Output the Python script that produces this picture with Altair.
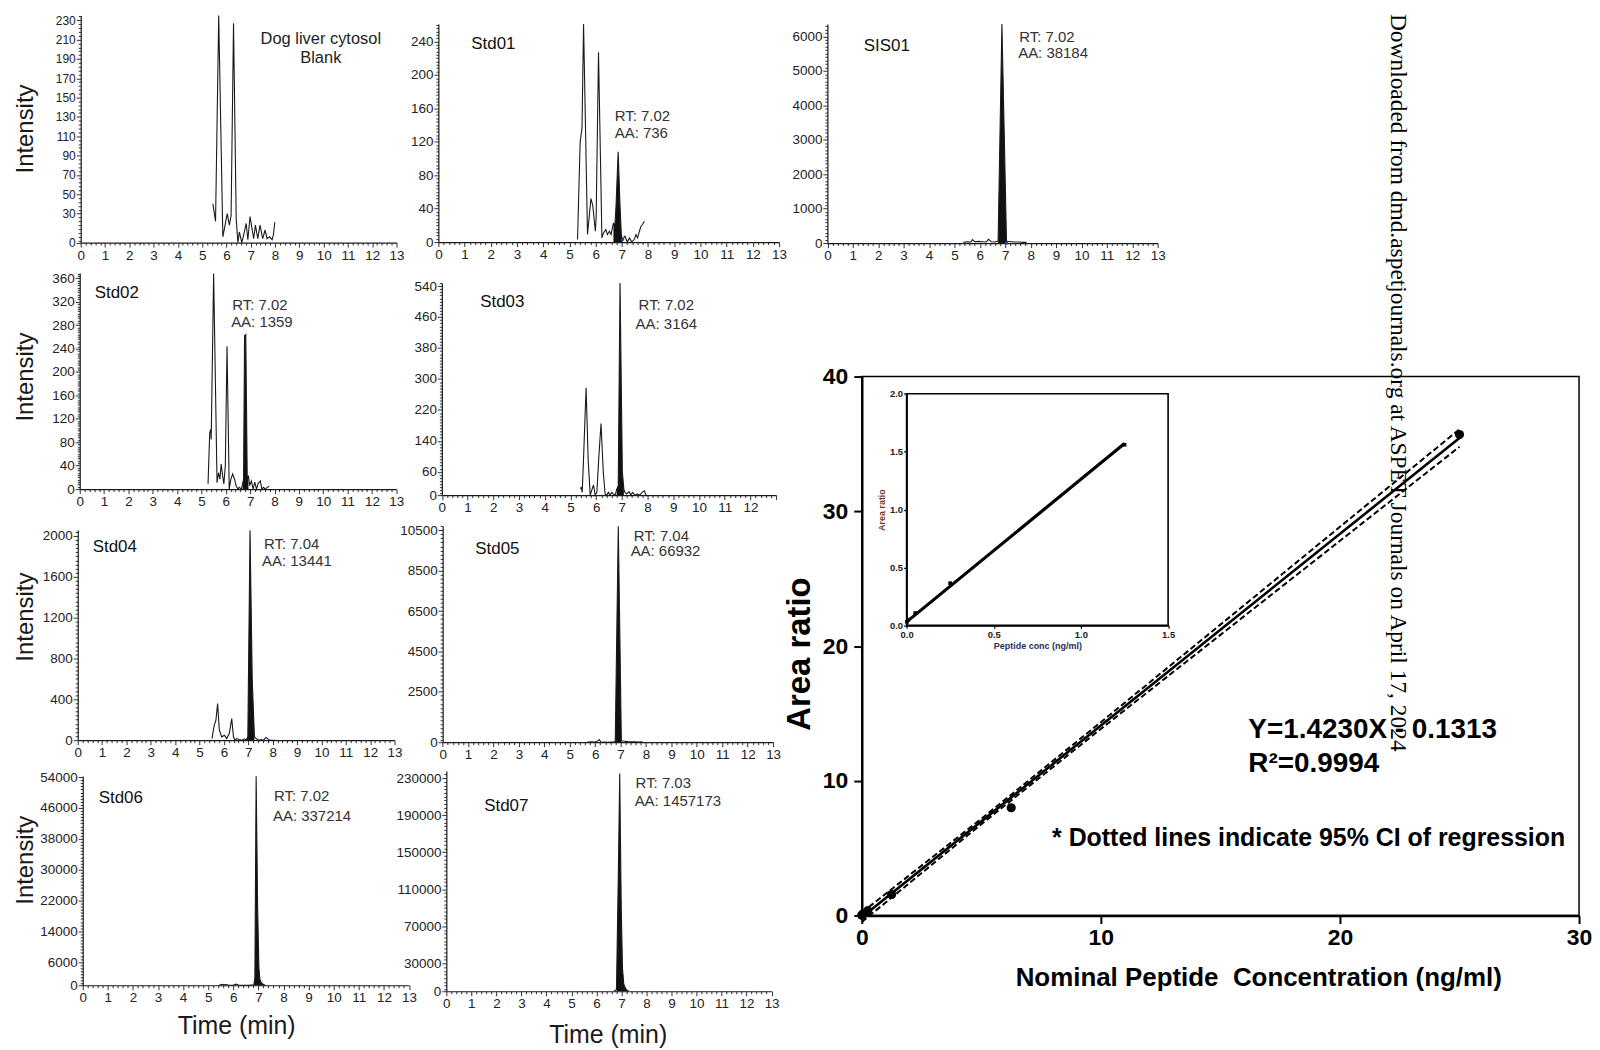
import json
import altair as alt
import pandas as pd

FONT = "Liberation Sans"
SERIF = "Liberation Serif"
INK = "#1a1a1a"

# ---------------- chromatogram traces: time (min), intensity ----------------
blank_t = [5.44, 5.55, 5.68, 5.85, 5.92, 6.03, 6.12, 6.19, 6.29, 6.40, 6.47, 6.53, 6.63, 6.71, 6.81,
           6.88, 6.97, 7.04, 7.12, 7.19, 7.29, 7.38, 7.49, 7.59, 7.67, 7.77, 7.88, 7.93, 7.99]
blank_i = [40, 22, 235, 6, 15, 30, 18, 28, 227, 25, 0, 11, 0, 8, 20,
           3, 27, 16, 4, 18, 4, 18, 4, 13, 4, 6, 3, 8, 21]

std01_t = [5.31, 5.41, 5.48, 5.54, 5.69, 5.82, 5.89, 5.99, 6.02, 6.11, 6.24, 6.30, 6.39, 6.45, 6.53,
           6.59, 6.68, 6.73, 6.78, 6.86, 6.93, 6.98, 7.03, 7.12, 7.21, 7.29, 7.38, 7.47, 7.54, 7.60,
           7.67, 7.73, 7.79, 7.86]
std01_i = [3, 120, 136, 261, 9, 52, 44, 13, 29, 227, 5, 11, 15, 9, 13,
           9, 23, 17, 44, 108, 44, 9, 3, 7, 0, 5, 0, 3, 9, 5,
           13, 19, 21, 25]

sis01_t = [5.35, 5.50, 5.65, 5.71, 5.80, 5.95, 6.10, 6.25, 6.34, 6.45, 6.60, 6.72, 6.87, 7.05, 7.10,
           7.25, 7.40, 7.55, 7.70, 7.84]
sis01_i = [20, 40, 30, 100, 40, 50, 40, 30, 110, 40, 30, 60, 6360, 60, 50,
           40, 30, 30, 20, 20]

std02_t = [5.27, 5.34, 5.38, 5.40, 5.50, 5.64, 5.70, 5.76, 5.81, 5.87, 5.92, 5.98, 6.05, 6.14, 6.21,
           6.28, 6.36, 6.42, 6.50, 6.55, 6.64, 6.69, 6.73, 6.77, 6.82, 6.88, 6.93, 6.98, 7.05, 7.12,
           7.19, 7.26, 7.33, 7.42, 7.48, 7.55, 7.62, 7.70, 7.78]
std02_i = [9, 96, 102, 85, 368, 11, 28, 17, 43, 23, 9, 40, 244, 0, 17,
           26, 17, 6, 0, 3, 0, 9, 17, 262, 264, 17, 23, 6, 14, 0,
           12, 0, 10, 14, 0, 3, 0, 3, 5]

std03_t = [5.38, 5.42, 5.46, 5.51, 5.61, 5.69, 5.77, 5.84, 5.90, 5.96, 6.03, 6.10, 6.19, 6.28, 6.35,
           6.41, 6.48, 6.54, 6.61, 6.67, 6.74, 6.80, 6.86, 6.93, 7.02, 7.08, 7.12, 7.19, 7.28, 7.35,
           7.42, 7.51, 7.60, 7.70, 7.79, 7.88, 7.94]
std03_i = [17, 20, 7, 93, 277, 93, 0, 15, 26, 0, 7, 93, 185, 58, 3,
           0, 7, 0, 7, 3, 0, 15, 24, 548, 60, 15, 7, 3, 9, 0,
           7, 0, 3, 0, 7, 11, 0]

std04_t = [5.51, 5.60, 5.67, 5.74, 5.81, 5.91, 6.02, 6.11, 6.22, 6.32, 6.39, 6.46, 6.52, 6.63, 6.73,
           6.84, 6.91, 6.98, 7.07, 7.16, 7.25, 7.32, 7.43, 7.53, 7.62, 7.73, 7.80, 7.90, 8.01, 8.09]
std04_i = [16, 146, 195, 358, 98, 33, 49, 16, 65, 211, 33, 0, 16, 7, 0,
           13, 0, 33, 2055, 600, 33, 16, 0, 7, 0, 26, 13, 0, 0, 0]

std05_t = [5.68, 5.83, 5.96, 6.07, 6.16, 6.23, 6.36, 6.49, 6.62, 6.72, 6.79, 6.91, 7.03, 7.10, 7.16,
           7.29, 7.42, 7.55, 7.68, 7.86]
std05_i = [0, 20, 10, 30, 130, 0, 10, 0, 10, 20, 30, 10700, 60, 60, 50,
           30, 20, 20, 10, 20]

std06_t = [5.43, 5.56, 5.63, 5.70, 5.83, 5.98, 6.12, 6.23, 6.40, 6.60, 6.82, 6.86, 6.91, 6.97, 7.02,
           7.06, 7.12, 7.20, 7.28]
std06_i = [0, 250, 150, 200, 0, 0, 300, 0, 0, 0, 100, 2000, 54200, 20000, 4500,
           1500, 600, 200, 0]

std07_t = [6.70, 6.80, 6.87, 6.93, 6.99, 7.04, 7.09, 7.16, 7.22, 7.29]
std07_i = [0, 2000, 120000, 235000, 90000, 25000, 8000, 3000, 1000, 0]

# integration-marker dots (blue) at the end of the integrated peak
dot_std01 = ([7.03], [3])
dot_sis01 = ([7.05], [0])

# y-axis major tick labels of each chromatogram
yt_blank = [0, 30, 50, 70, 90, 110, 130, 150, 170, 190, 210, 230]
yt_std01 = [0, 40, 80, 120, 160, 200, 240]
yt_sis01 = [0, 1000, 2000, 3000, 4000, 5000, 6000]
yt_std02 = [0, 40, 80, 120, 160, 200, 240, 280, 320, 360]
yt_std03 = [0, 60, 140, 220, 300, 380, 460, 540]
yt_std04 = [0, 400, 800, 1200, 1600, 2000]
yt_std05 = [0, 2500, 4500, 6500, 8500, 10500]
yt_std06 = [0, 6000, 14000, 22000, 30000, 38000, 46000, 54000]
yt_std07 = [0, 30000, 70000, 110000, 150000, 190000, 230000]

# annotation strings
lab_blank = ["Dog liver cytosol", "Blank"]
lab_std01 = ["Std01", "RT: 7.02", "AA: 736"]
lab_sis01 = ["SIS01", "RT: 7.02", "AA: 38184"]
lab_std02 = ["Std02", "RT: 7.02", "AA: 1359"]
lab_std03 = ["Std03", "RT: 7.02", "AA: 3164"]
lab_std04 = ["Std04", "RT: 7.04", "AA: 13441"]
lab_std05 = ["Std05", "RT: 7.04", "AA: 66932"]
lab_std06 = ["Std06", "RT: 7.02", "AA: 337214"]
lab_std07 = ["Std07", "RT: 7.03", "AA: 1457173"]

# ---------------- calibration curve ----------------
conc = [0.002, 0.01, 0.05, 0.25, 1.25, 6.25, 25]
ratio = [0.03, 0.049, 0.106, 0.364, 1.56, 8.0, 35.7]
fit_x = [0, 25]
fit_y = [-0.13, 35.44]
ci_x = [0, 5, 10, 15, 20, 25]
ci_hi = [0.22, 7.18, 14.35, 21.59, 28.85, 36.09]
ci_lo = [-0.48, 6.78, 13.85, 20.83, 27.81, 34.79]
inset_fit_x = [0, 1.25]
inset_fit_y = [0.03, 1.57]
eq_text = "Y=1.4230X - 0.1313"
r2_text = "R\u00b2=0.9994"
ci_note = "* Dotted lines indicate 95% CI of regression"
watermark = "Downloaded from dmd.aspetjournals.org at ASPET Journals on April 17, 2024"

# ---------------- canvas (whole figure = one view; page offset 8 px) ----------------
W, H = 1584, 1034
OFF = 8

XMAJ = list(range(14))
XVALS = [round(k * 0.2, 6) for k in range(66)]


def tick_values(majors, step, top):
    vals = {float(m) for m in majors}
    anchor = majors[1]
    k = -int(anchor / step) - 1
    while True:
        v = round(anchor + k * step, 6)
        if v > top + 1e-9:
            break
        if v >= 0:
            vals.add(v)
        k += 1
    return sorted(vals)


def is_major(majors):
    return "indexof(%s, datum.value) >= 0" % json.dumps(majors)


def note(s, x, y, size, color=INK, align="left", weight="normal", font=FONT, angle=None):
    """Text annotation placed at page coordinates (x, y)."""
    kw = dict(align=align, baseline="middle", fontSize=size, color=color, font=font, fontWeight=weight)
    if angle is not None:
        kw["angle"] = angle
    return alt.Chart(pd.DataFrame({"s": [s]})).mark_text(**kw).encode(
        x=alt.value(x - OFF), y=alt.value(y - OFF), text="s:N")


def chrom(t, inten, box, ymax, ymaj, ystep, notes, fill=None, ylab=13.5,
          ytitle=None, xtitle=None, xlab=XMAJ, dots=None):
    L, R, T, B = box
    df = pd.DataFrame({"t": t, "I": inten})
    xt = is_major(XMAJ)
    xl = is_major(xlab)
    xkw = dict(orient="bottom", offset=-(H - (B - OFF)),
               values=XVALS, labelExpr="(%s) ? format(datum.value, 'd') : ''" % xl,
               tickSize={"condition": {"test": xt, "value": 4.5}, "value": 2.5},
               labelFontSize=13.5, labelPadding=1, labelOverlap=False, labelFlush=False,
               tickWidth=0.9, domainWidth=1.2, domainColor=INK, tickColor=INK,
               labelColor="#222222", labelFont=FONT, grid=False)
    if xtitle is not None:
        xkw.update(title="Time (min)", titleFontSize=25, titleFontWeight="normal", titleFont=FONT,
                   titleColor=INK, titleX=xtitle[0] - OFF, titleY=xtitle[1] - B, titleBaseline="middle")
    else:
        xkw["title"] = None
    yvals = tick_values(ymaj, ystep, ymax)
    yt = is_major(ymaj)
    ykw = dict(orient="left", offset=-(L - OFF),
               values=yvals, labelExpr="(%s) ? format(datum.value, 'd') : ''" % yt,
               tickSize={"condition": {"test": yt, "value": 4.5}, "value": 2.5},
               labelFontSize=ylab, labelPadding=1, labelOverlap=False, labelFlush=False,
               tickWidth=0.9, domainWidth=1.2, domainColor=INK, tickColor=INK,
               labelColor="#222222", labelFont=FONT, grid=False)
    if ytitle is not None:
        ykw.update(title="Intensity", titleFontSize=24, titleFontWeight="normal", titleFont=FONT,
                   titleColor=INK, titleX=ytitle[0] - L, titleY=ytitle[1] - OFF, titleBaseline="middle")
    else:
        ykw["title"] = None
    X = alt.X("t:Q", scale=alt.Scale(domain=[0, 13], range=[L - OFF, R - OFF], nice=False, zero=False),
              axis=alt.Axis(**xkw))
    Y = alt.Y("I:Q", scale=alt.Scale(domain=[0, ymax], range=[B - OFF, T - OFF], nice=False, zero=False),
              axis=alt.Axis(**ykw))
    layers = []
    if fill:
        layers.append(alt.Chart(df).transform_filter(
            (alt.datum.t >= fill[0] - 1e-6) & (alt.datum.t <= fill[1] + 1e-6)
        ).mark_area(color="#111111", opacity=1, interpolate="linear").encode(x=X, y=Y))
    layers.append(alt.Chart(df).mark_line(color=INK, strokeWidth=1.1).encode(x=X, y=Y))
    if dots:
        layers.append(alt.Chart(pd.DataFrame({"t": dots[0], "I": dots[1]})).mark_point(
            filled=True, size=10, color="#1f3fd0", opacity=1).encode(x=X, y=Y))
    for n in notes:
        layers.append(note(*n))
    return alt.layer(*layers)


def std_notes(labels, p0, p1, p2):
    return [(labels[0], p0[0], p0[1], 17, "#111111"),
            (labels[1], p1[0], p1[1], 15, "#333333"),
            (labels[2], p2[0], p2[1], 15, "#333333")]


# ---------------- chromatogram panels (boxes in page px: left, right, top, bottom) ----------------
p_blank = chrom(blank_t, blank_i, (81, 398, 9.5, 237.5), 235, yt_blank, 4,
                [(lab_blank[0], 322, 33, 16.5, "#222222", "center"),
                 (lab_blank[1], 322, 52, 16.5, "#222222", "center")],
                ylab=12, ytitle=(26, 123))
p_std01 = chrom(std01_t, std01_i, (440, 782, 18, 237), 261, yt_std01, 4,
                std_notes(lab_std01, (473, 38), (617, 110), (617, 128)),
                fill=(6.68, 7.03), dots=dot_std01)
p_sis01 = chrom(sis01_t, sis01_i, (830.5, 1162, 18, 238), 6364, yt_sis01, 100,
                std_notes(lab_sis01, (867, 40), (1023, 31), (1022, 47)),
                fill=(6.72, 7.05), dots=dot_sis01)
p_std02 = chrom(std02_t, std02_i, (80, 397.7, 268, 485), 369, yt_std02, 4,
                std_notes(lab_std02, (95, 288), (233, 300), (232, 317)),
                fill=(6.69, 6.93), ytitle=(26, 372))
p_std03 = chrom(std03_t, std03_i, (443.5, 779, 278, 491), 548, yt_std03, 8,
                std_notes(lab_std03, (482, 297), (641, 300), (638, 319)),
                fill=(6.80, 7.08), xlab=XMAJ[:-1])
p_std04 = chrom(std04_t, std04_i, (78, 396, 526, 737), 2058, yt_std04, 40,
                std_notes(lab_std04, (93, 543), (265, 540), (263, 557)),
                fill=(6.91, 7.25), ytitle=(26, 613))
p_std05 = chrom(std05_t, std05_i, (444.3, 776, 522, 739), 10714, yt_std05, 200,
                std_notes(lab_std05, (477, 545), (636, 532), (633, 547)),
                fill=(6.79, 7.03))
p_std06 = chrom(std06_t, std06_i, (83, 410.5, 773, 983), 54264, yt_std06, 800,
                std_notes(lab_std06, (99, 795), (275, 793), (274, 813)),
                fill=(6.82, 7.28), ytitle=(26, 857), xtitle=(237, 1023))
p_std07 = chrom(std07_t, std07_i, (448, 774.5, 768, 989), 237634, yt_std07, 4000,
                std_notes(lab_std07, (486, 803), (638, 780), (637, 798)),
                fill=(6.78, 7.29), xtitle=(610, 1032))

# ---------------- calibration plot (page box 865..1585 x 372..913) ----------------
RL, RR, RT, RB = 865, 1585, 372, 913
rx_axis = alt.Axis(orient="bottom", offset=-(H - (RB - OFF)), values=[0, 10, 20, 30],
                   title="Nominal Peptide\u00a0 Concentration (ng/ml)",
                   titleFontSize=26, titleFontWeight="bold", titleFont=FONT, titleColor="#000000",
                   titleX=1263 - OFF, titleY=975 - RB, titleBaseline="middle",
                   labelFontSize=23, labelFontWeight="bold", labelFont=FONT, labelColor="#000000",
                   labelPadding=3, labelFlush=False, tickSize=8, tickWidth=2, domainWidth=2.5,
                   domainColor="#000000", tickColor="#000000", grid=False)
ry_axis = alt.Axis(orient="left", offset=-(RL - OFF), values=[0, 10, 20, 30, 40], title="Area ratio",
                   titleFontSize=33, titleFontWeight="bold", titleFont=FONT, titleColor="#000000",
                   titleX=803 - RL, titleY=650 - OFF, titleBaseline="middle",
                   labelFontSize=23, labelFontWeight="bold", labelFont=FONT, labelColor="#000000",
                   labelPadding=6, labelFlush=False, tickSize=8, tickWidth=2, domainWidth=2.5,
                   domainColor="#000000", tickColor="#000000", grid=False)
RX = alt.X("conc:Q", scale=alt.Scale(domain=[0, 30], range=[RL - OFF, RR - OFF], nice=False, zero=False),
           axis=rx_axis)
RY = alt.Y("ratio:Q", scale=alt.Scale(domain=[0, 40], range=[RB - OFF, RT - OFF], nice=False, zero=False),
           axis=ry_axis)

reg_df = pd.DataFrame({"conc": conc, "ratio": ratio})
fit_df = pd.DataFrame({"conc": fit_x, "ratio": fit_y})
hi_df = pd.DataFrame({"conc": ci_x, "ratio": ci_hi})
lo_df = pd.DataFrame({"conc": ci_x, "ratio": ci_lo})
main_frame = pd.DataFrame({"conc": [0], "conc2": [30], "ratio": [0], "ratio2": [40]})

main = alt.layer(
    alt.Chart(main_frame).mark_rect(fill="#ffffff", fillOpacity=0, stroke="#000000", strokeWidth=1.5).encode(
        x=RX, x2="conc2:Q", y=RY, y2="ratio2:Q"),
    alt.Chart(hi_df).mark_line(color="#000000", strokeWidth=2, strokeDash=[6, 3]).encode(x=RX, y=RY),
    alt.Chart(lo_df).mark_line(color="#000000", strokeWidth=2, strokeDash=[6, 3]).encode(x=RX, y=RY),
    alt.Chart(fit_df).mark_line(color="#000000", strokeWidth=2.6).encode(x=RX, y=RY),
    alt.Chart(reg_df).mark_circle(size=85, color="#000000", opacity=1).encode(x=RX, y=RY),
    note(eq_text, 1253, 727, 28, "#000000", "left", "bold"),
    note(r2_text, 1253, 761, 28, "#000000", "left", "bold"),
    note(ci_note, 1056, 835, 25, "#000000", "left", "bold"),
    note(watermark, 1403, OFF, 23.5, "#000000", "left", "normal", SERIF, 90),
)

# inset (page box 910..1172.5 x 389.3..621.7)
IL, IR, IT, IB = 910, 1172.5, 389.3, 621.7
ix_axis = alt.Axis(orient="bottom", offset=-(H - (IB - OFF)), values=[0, 0.5, 1.0, 1.5], format=".1f",
                   labelFontSize=9.5, labelFontWeight="bold", labelFont=FONT, labelColor="#222222",
                   labelPadding=1, labelFlush=False, tickSize=3, tickWidth=1.2, domainWidth=1.6,
                   domainColor="#000000", tickColor="#000000", grid=False,
                   title="Peptide conc (ng/ml)", titleFontSize=9, titleFontWeight="bold", titleFont=FONT,
                   titleColor="#22305a", titlePadding=3)
iy_axis = alt.Axis(orient="left", offset=-(IL - OFF), values=[0, 0.5, 1.0, 1.5, 2.0], format=".1f",
                   labelFontSize=9.5, labelFontWeight="bold", labelFont=FONT, labelColor="#222222",
                   labelPadding=1, labelFlush=False, tickSize=3, tickWidth=1.2, domainWidth=1.6,
                   domainColor="#000000", tickColor="#000000", grid=False,
                   title="Area ratio", titleFontSize=9, titleFontWeight="bold", titleFont=FONT,
                   titleColor="#6e3b2c", titlePadding=3)
IX = alt.X("conc:Q", scale=alt.Scale(domain=[0, 1.5], range=[IL - OFF, IR - OFF], nice=False, zero=False),
           axis=ix_axis)
IY = alt.Y("ratio:Q", scale=alt.Scale(domain=[0, 2.0], range=[IB - OFF, IT - OFF], nice=False, zero=False),
           axis=iy_axis)

inset_frame = pd.DataFrame({"conc": [0], "conc2": [1.5], "ratio": [0], "ratio2": [2.0]})
inset_fit_df = pd.DataFrame({"conc": inset_fit_x, "ratio": inset_fit_y})
inset = alt.layer(
    alt.Chart(inset_frame).mark_rect(fill="#ffffff", fillOpacity=0, stroke="#000000", strokeWidth=1.6).encode(
        x=IX, x2="conc2:Q", y=IY, y2="ratio2:Q"),
    alt.Chart(inset_fit_df).mark_line(color="#000000", strokeWidth=3.2).encode(x=IX, y=IY),
    alt.Chart(reg_df).transform_filter(alt.datum.conc <= 1.3).mark_square(
        size=14, color="#000000", opacity=1).encode(x=IX, y=IY),
)

chart = alt.layer(
    p_blank, p_std01, p_sis01, p_std02, p_std03, p_std04, p_std05, p_std06, p_std07, main, inset
).resolve_scale(x="independent", y="independent").properties(
    width=W, height=H, padding={"left": 0, "top": 0, "right": 0, "bottom": 0},
    view=alt.ViewBackground(stroke="transparent", strokeWidth=0)
).configure(font=FONT, background="#ffffff").configure_view(stroke="transparent", strokeWidth=0)

chart.save("out.html", embed_options={"renderer": "svg", "actions": False})
